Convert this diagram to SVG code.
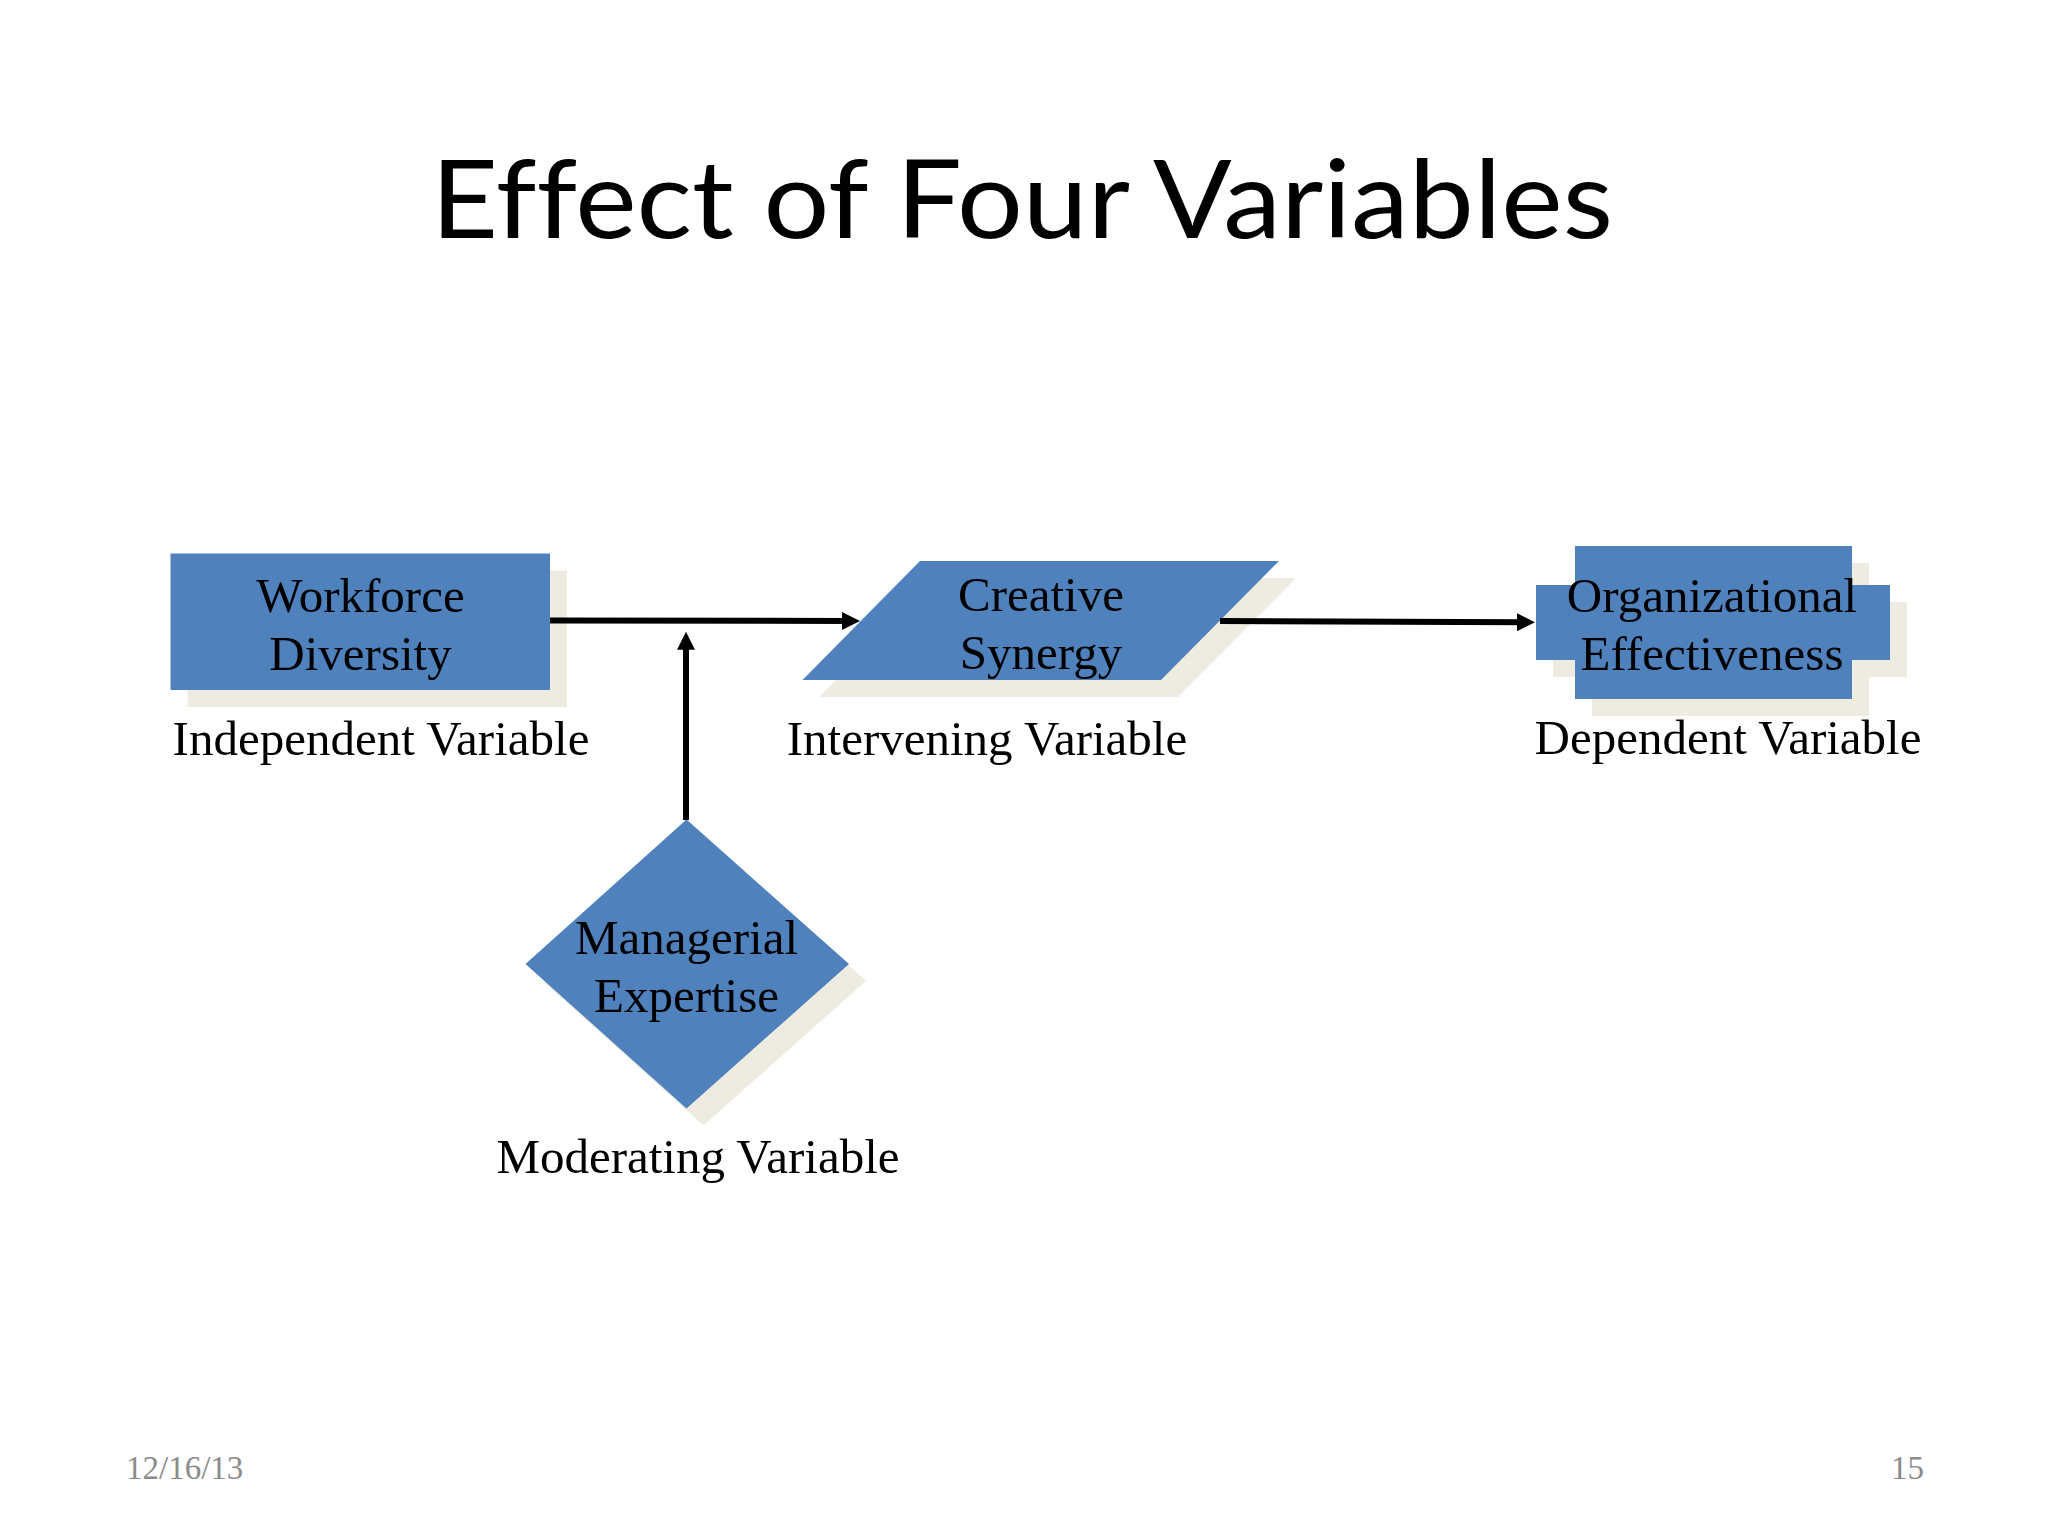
<svg xmlns="http://www.w3.org/2000/svg" width="2048" height="1536" viewBox="0 0 2048 1536">
  <style>
    .node { fill: #4F81BD; }
    .shadow { fill: #EEECE1; }
    .ntext { font-family: "Liberation Serif", "Times New Roman", serif; font-size: 49px; fill: #000000; text-anchor: middle; }
    .label { font-family: "Liberation Serif", "Times New Roman", serif; font-size: 49px; fill: #000000; text-anchor: middle; }
    .title { font-family: Lato, "Open Sans", "Liberation Sans", sans-serif; font-size: 108px; fill: #000000; font-variant-ligatures: none; font-feature-settings: "liga" 0; }
    .footer { font-family: "Liberation Serif", "Times New Roman", serif; font-size: 33px; fill: #8B8B8B; }
    .conn { stroke: #000000; stroke-width: 6; fill: none; }
  </style>
  <defs>
    <marker id="arrow" markerUnits="userSpaceOnUse" markerWidth="18" markerHeight="18" viewBox="0 0 18 18" refX="8" refY="9" orient="auto">
      <path d="M0,0 L18,9 L0,18 Z" fill="#000000"/>
    </marker>
  </defs>
  <rect x="0" y="0" width="2048" height="1536" fill="#FFFFFF"/>

  <text class="title" x="431" y="238" textLength="1182" lengthAdjust="spacingAndGlyphs">Effect of Four Variables</text>

  <g id="workforce-diversity">
    <rect class="shadow" x="187.5" y="570.5" width="379.5" height="136.5"/>
    <rect class="node" x="170.5" y="553.5" width="379.5" height="136.5"/>
    <text class="ntext" x="360.5" y="611.5">Workforce</text>
    <text class="ntext" x="360.5" y="669.5">Diversity</text>
    <text class="label" x="381" y="755">Independent Variable</text>
  </g>

  <g id="creative-synergy">
    <polygon class="shadow" points="937,578 1296,578 1178,697 819.5,697"/>
    <polygon class="node" points="920,561 1279,561 1161,680 802.5,680"/>
    <text class="ntext" x="1041" y="611">Creative</text>
    <text class="ntext" x="1041" y="668.5">Synergy</text>
    <text class="label" x="987" y="755">Intervening Variable</text>
  </g>

  <g id="organizational-effectiveness">
    <polygon class="shadow" points="1592,563 1869,563 1869,602 1907,602 1907,677 1869,677 1869,716 1592,716 1592,677 1553,677 1553,602 1592,602"/>
    <polygon class="node" points="1575,546 1852,546 1852,585 1890,585 1890,660 1852,660 1852,699 1575,699 1575,660 1536,660 1536,585 1575,585"/>
    <text class="ntext" x="1712" y="611.5">Organizational</text>
    <text class="ntext" x="1712" y="670">Effectiveness</text>
    <text class="label" x="1728" y="754">Dependent Variable</text>
  </g>

  <g id="managerial-expertise">
    <polygon class="shadow" points="703.5,836.5 866,981 703.5,1125.5 542.5,981"/>
    <polygon class="node" points="686.5,819.5 849,964 686.5,1108.5 525.5,964"/>
    <text class="ntext" x="686.5" y="954">Managerial</text>
    <text class="ntext" x="686.5" y="1011.5">Expertise</text>
    <text class="label" x="698" y="1173">Moderating Variable</text>
  </g>

  <g id="connectors">
    <line class="conn" x1="550" y1="620.5" x2="850" y2="621" marker-end="url(#arrow)"/>
    <line class="conn" x1="1220" y1="621" x2="1525" y2="622.3" marker-end="url(#arrow)"/>
    <line class="conn" x1="686" y1="820" x2="686" y2="641.7" marker-end="url(#arrow)"/>
  </g>

  <text class="footer" x="126" y="1479">12/16/13</text>
  <text class="footer" x="1924" y="1479" text-anchor="end">15</text>
</svg>
